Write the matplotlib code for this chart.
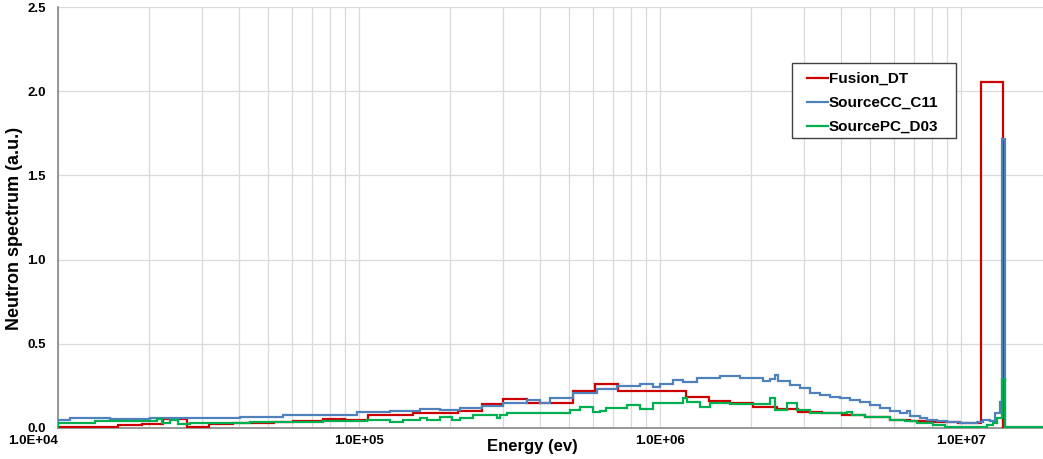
import numpy as np
import matplotlib
matplotlib.use("Agg")
import matplotlib.pyplot as plt
from matplotlib.patches import Rectangle
from matplotlib.ticker import FixedLocator, FuncFormatter, NullFormatter, LogLocator

plt.rcParams['font.family'] = ['Liberation Sans', 'DejaVu Sans']

# ---------------- data (energies as log10(E / eV)) ----------------
series_names = ["Fusion_DT", "SourceCC_C11", "SourcePC_D03"]

fusion_log_edges = [4.000, 4.199, 4.279, 4.349, 4.429, 4.502, 4.581, 4.654, 4.718, 4.781,
                    4.880, 4.953, 5.030, 5.103, 5.179, 5.252, 5.329, 5.409, 5.478, 5.558,
                    5.635, 5.711, 5.784, 5.860, 5.934, 6.010, 6.086, 6.163, 6.233, 6.309,
                    6.389, 6.458, 6.538, 6.605, 6.681, 6.764, 6.831, 6.897, 6.990, 7.066,
                    7.140]
fusion_values = [0.003, 0.018, 0.022, 0.052, 0.006, 0.022, 0.030, 0.031, 0.033, 0.040,
                 0.055, 0.045, 0.075, 0.080, 0.087, 0.087, 0.103, 0.142, 0.174, 0.150,
                 0.150, 0.222, 0.261, 0.222, 0.222, 0.222, 0.186, 0.158, 0.150, 0.127,
                 0.110, 0.093, 0.087, 0.075, 0.065, 0.050, 0.040, 0.035, 0.031, 2.056]

cc_log_edges = [4.000, 4.040, 4.173, 4.306, 4.472, 4.605, 4.748, 4.860, 4.993, 5.103,
                5.203, 5.269, 5.336, 5.409, 5.478, 5.558, 5.601, 5.635, 5.711, 5.791,
                5.857, 5.934, 5.977, 6.000, 6.043, 6.076, 6.123, 6.199, 6.266, 6.342,
                6.365, 6.382, 6.392, 6.432, 6.465, 6.498, 6.532, 6.565, 6.598, 6.631,
                6.664, 6.698, 6.731, 6.764, 6.797, 6.821, 6.831, 6.864, 6.887, 6.920,
                6.953, 6.997, 7.053, 7.073, 7.096, 7.113, 7.130, 7.136, 7.146, 7.179]
cc_values = [0.050, 0.058, 0.055, 0.060, 0.062, 0.066, 0.075, 0.080, 0.093, 0.100,
             0.112, 0.105, 0.120, 0.130, 0.150, 0.166, 0.150, 0.176, 0.206, 0.230,
             0.250, 0.260, 0.245, 0.260, 0.285, 0.272, 0.295, 0.308, 0.295, 0.282,
             0.290, 0.315, 0.280, 0.255, 0.235, 0.210, 0.195, 0.185, 0.176, 0.165,
             0.152, 0.135, 0.120, 0.100, 0.087, 0.100, 0.071, 0.060, 0.048, 0.040,
             0.034, 0.028, 0.034, 0.048, 0.042, 0.087, 0.156, 1.716, 0.002]

pc_log_edges = [4.000, 4.123, 4.329, 4.346, 4.372, 4.399, 4.439, 4.638, 4.804, 4.880,
                5.027, 5.103, 5.146, 5.203, 5.226, 5.269, 5.309, 5.336, 5.379, 5.458,
                5.468, 5.492, 5.578, 5.701, 5.734, 5.777, 5.801, 5.821, 5.890, 5.934,
                5.977, 6.076, 6.090, 6.133, 6.166, 6.233, 6.365, 6.382, 6.422, 6.455,
                6.498, 6.621, 6.638, 6.681, 6.764, 6.814, 6.854, 6.907, 6.947, 7.086,
                7.106, 7.120, 7.136, 7.146, 7.272]
pc_values = [0.031, 0.040, 0.055, 0.030, 0.045, 0.022, 0.028, 0.035, 0.037, 0.043,
             0.050, 0.035, 0.050, 0.060, 0.045, 0.067, 0.048, 0.058, 0.077, 0.060,
             0.075, 0.087, 0.090, 0.107, 0.127, 0.095, 0.100, 0.117, 0.137, 0.111,
             0.147, 0.176, 0.156, 0.123, 0.147, 0.140, 0.176, 0.107, 0.147, 0.107,
             0.087, 0.095, 0.075, 0.065, 0.048, 0.040, 0.028, 0.020, 0.008, 0.020,
             0.028, 0.058, 0.290, 0.004]

y_ticks = [0.0, 0.5, 1.0, 1.5, 2.0, 2.5]
x_major = [1e4, 1e5, 1e6, 1e7]

colors = ["#CC0000", "#4F81BD", "#00B050"]

# ---------------- figure ----------------
W, H = 1043, 459
fig = plt.figure(figsize=(W / 100, H / 100), dpi=100)
ax = fig.add_axes([58 / W, 31 / H, 993.6 / W, 421 / H])

series = [(fusion_log_edges, fusion_values),
          (cc_log_edges, cc_values),
          (pc_log_edges, pc_values)]
for (le, vals), name, c in zip(series, series_names, colors):
    ax.stairs(vals, 10 ** np.asarray(le), baseline=0, color=c, lw=1.6,
              label=name, zorder=3)

ax.set_xscale('log')
ax.set_xlim(1e4, 2e7)
ax.set_ylim(0, 2.5)

ax.xaxis.set_major_locator(FixedLocator(x_major))
ax.xaxis.set_minor_locator(LogLocator(base=10, subs=np.arange(2, 10)))
ax.xaxis.set_minor_formatter(NullFormatter())
ax.xaxis.set_major_formatter(FuncFormatter(lambda v, p: "{:.1E}".format(v)))
ax.yaxis.set_major_locator(FixedLocator(y_ticks))
ax.yaxis.set_major_formatter(FuncFormatter(lambda v, p: "{:.1f}".format(v)))

ax.grid(True, which='both', axis='x', color='#D9D9D9', lw=0.9, zorder=0)
ax.grid(True, which='major', axis='y', color='#D9D9D9', lw=0.9, zorder=0)
ax.set_axisbelow(True)

for s in ['top', 'right']:
    ax.spines[s].set_visible(False)
for s in ['left', 'bottom']:
    ax.spines[s].set_color('#868686')
    ax.spines[s].set_linewidth(1.2)

ax.tick_params(which='both', length=0)
ax.tick_params(axis='x', pad=5, labelsize=9.5)
ax.tick_params(axis='y', pad=9, labelsize=9.5)
xt = ax.get_xticklabels()
for lab in xt + ax.get_yticklabels():
    lab.set_fontweight('bold')
xt[0].set_horizontalalignment('right')

fig.text(532 / W, 1 - 446 / H, "Energy (ev)", fontsize=12, fontweight='bold',
         ha='center', va='center')
fig.text(15 / W, 1 - 228 / H, "Neutron spectrum (a.u.)", fontsize=13,
         fontweight='bold', ha='center', va='center', rotation=90)

# legend: frame drawn as a rectangle, entries placed inside
frame = Rectangle((792 / W, 1 - 138 / H), 164 / W, 75 / H,
                  transform=fig.transFigure, facecolor='white',
                  edgecolor='#404040', lw=1.0, zorder=5, clip_on=False)
ax.add_patch(frame)
leg = ax.legend(loc='upper left', bbox_to_anchor=(807 / W, 1 - 72 / H),
                bbox_transform=fig.transFigure, frameon=False,
                prop={'weight': 'bold', 'size': 11},
                handlelength=1.35, handletextpad=0.08, labelspacing=0.65,
                borderpad=0, borderaxespad=0)
leg.set_zorder(6)

fig.savefig("out.png", dpi=100)
